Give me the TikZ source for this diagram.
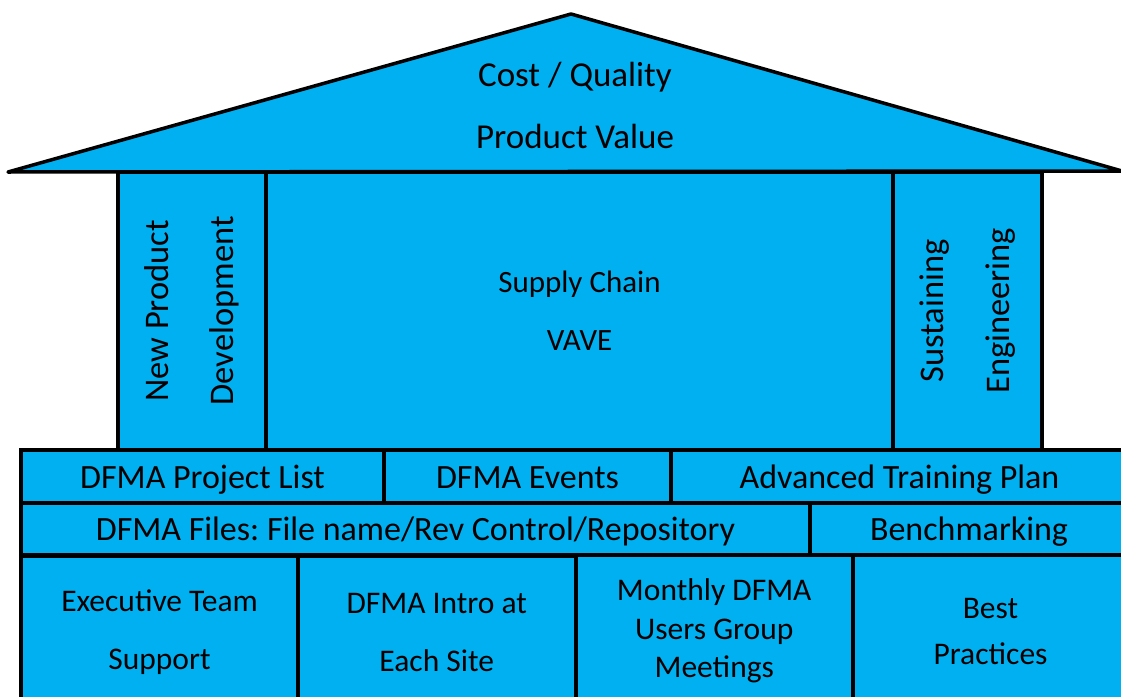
\documentclass[tikz,border=0pt]{standalone}
\usepackage{fontspec}
\setmainfont{Carlito}
\frenchspacing
\definecolor{sky}{HTML}{00B0F0}
\tikzset{
  cell/.style={draw=black, fill=sky, line width=4pt, inner sep=0pt, align=center, text=black},
  rowa/.style={cell, minimum height=52.8pt, font=\fontsize{34}{40}\selectfont, text height=30pt, text depth=5.6pt},
  rowb/.style={cell, minimum height=52pt, font=\fontsize{34}{40}\selectfont, text height=30pt, text depth=7pt},
  roofstyle/.style={draw=black, fill=sky, line width=3.5pt, line join=round},
}
\begin{document}
\begin{tikzpicture}[x=1pt,y=-1pt]
\clip (0,0) rectangle (1121,696);
\fill[white] (0,0) rectangle (1121,696);
% pillars
\node[cell, rotate=90, minimum width=277.7pt, minimum height=148pt, font=\fontsize{34.5}{65}\selectfont] (p1) at (192,310.85) {New Product\\Development};
\node[cell, minimum width=627pt, minimum height=277.7pt, font=\fontsize{31}{58}\selectfont] (p2) at (579.5,310.85) {Supply Chain\\VAVE};
\node[cell, rotate=90, minimum width=277.7pt, minimum height=149pt, font=\fontsize{34.5}{66}\selectfont] (p3) at (967.5,310.85) {Sustaining\\Engineering};
% roof
\coordinate (rl) at (8,172);
\coordinate (ra) at (571,14);
\coordinate (rr) at (1122,171);
\draw[roofstyle] (rl) -- (ra) -- (rr) -- cycle;
\node[align=center, font=\fontsize{35}{62}\selectfont] (rooftext) at (575,105) {Cost / Quality\\Product Value};
% row 1
\node[rowa, minimum width=363pt] (r1a) at (202.5,476.1) {DFMA Project List};
\node[rowa, minimum width=287pt] (r1b) at (527.5,476.1) {DFMA Events};
\node[rowa, minimum width=457pt] (r1c) at (899.5,476.1) {Advanced Training Plan};
% row 2
\node[rowb, minimum width=789pt] (r2a) at (415.5,528.5) {DFMA Files: File name/Rev Control/Repository};
\node[rowb, minimum width=318pt] (r2b) at (969,528.5) {Benchmarking};
% row 3
\node[cell, minimum width=277pt, minimum height=153.5pt, font=\fontsize{31.5}{58}\selectfont] (r3a) at (159.5,632.5) {Executive Team\\Support};
\node[cell, minimum width=277.5pt, minimum height=153.5pt, font=\fontsize{31.5}{58}\selectfont] (r3b) at (436.75,632.5) {DFMA Intro at\\Each Site};
\node[cell, minimum width=277.5pt, minimum height=153.5pt, font=\fontsize{31.5}{38.5}\selectfont] (r3c) at (714.25,631.25) {Monthly DFMA\\Users Group\\Meetings};
\node[cell, minimum width=275pt, minimum height=153.5pt, font=\fontsize{31.5}{46}\selectfont] (r3d) at (990.5,631.25) {Best\\Practices};
\end{tikzpicture}
\end{document}
